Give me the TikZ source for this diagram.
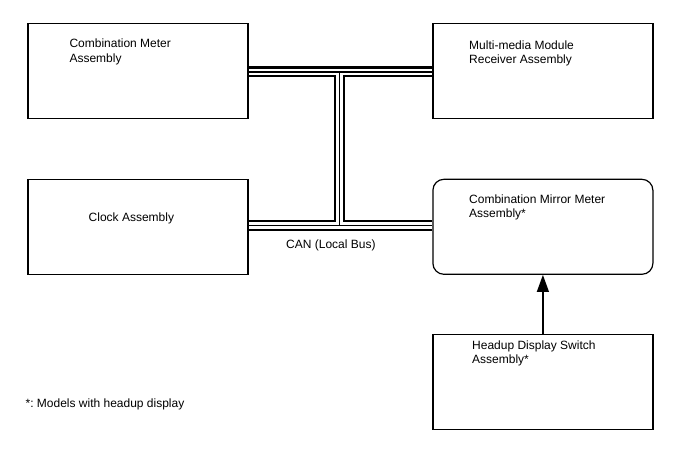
\documentclass[tikz,border=0pt]{standalone}
\usepackage{fontspec}
\setmainfont{Liberation Sans}
\usetikzlibrary{arrows.meta}
\pgfdeclarelayer{bg}
\pgfsetlayers{bg,main}
\frenchspacing
\begin{document}
\begin{tikzpicture}[x=1pt,y=-1pt,
  box/.style={draw, line width=1.2pt, minimum width=220pt, minimum height=95pt, inner sep=0pt, anchor=north west},
  lbl/.style={anchor=north west, inner sep=0pt, align=left, font=\fontsize{12}{14.5}\selectfont},
  busouter/.style={line width=11pt},
  businner/.style={white, line width=6.5pt},
  buscore/.style={line width=1.5pt}]
\useasboundingbox (0,0) rectangle (688,463);
% boxes
\node[box] (cm) at (27.3,22.7) {};
\node[box] (mm) at (432.3,22.7) {};
\node[box] (clock) at (27.3,178.7) {};
\node[box, rounded corners=11pt] (mirror) at (432.3,178.7) {};
\node[box] (hud) at (432.3,334) {};
% labels
\node[lbl] (cmt) at (69.3,38.8) {Combination Meter\\Assembly};
\node[lbl] (mmt) at (469,40.5) {Multi-media Module\\Receiver Assembly};
\node[lbl] (clt) at (88.5,212.3) {Clock Assembly};
\node[lbl] (mit) at (469,194.3) {Combination Mirror Meter\\Assembly*};
\node[lbl] (hut) at (472,340.3) {Headup Display Switch\\Assembly*};
\node[lbl] (cant) at (286,239.3) {CAN (Local Bus)};
\node[lbl] (note) at (25.4,398.3) {\frenchspacing *: Models with headup display};
% bus
\coordinate (tl) at ([yshift=-1pt]cm.east);
\coordinate (tr) at (mm.west |- tl);
\coordinate (bl) at ([yshift=1.5pt]clock.east);
\coordinate (br) at (mirror.west |- bl);
\coordinate (jt) at (339.5,0 |- tl);
\coordinate (jb) at (339.5,0 |- bl);
\def\buspath{(tl) -- (tr) (bl) -- (br) (jt) -- (jb)}
\begin{pgfonlayer}{bg}
\draw[busouter] \buspath;
\draw[businner] \buspath;
\draw[buscore] \buspath;
\end{pgfonlayer}
% arrow
\draw[line width=1.2pt, -{Triangle[length=17pt,width=12pt]}] (hud.north) -- (mirror.south);
\end{tikzpicture}
\end{document}
